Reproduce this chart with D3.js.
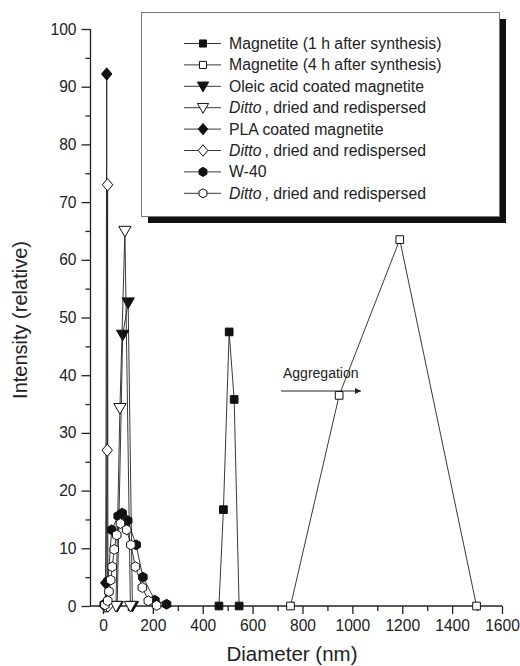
<!DOCTYPE html>
<html><head><meta charset="utf-8">
<script src="https://cdn.jsdelivr.net/npm/d3@7"></script>
<style>
html,body{margin:0;padding:0;background:#fff;}
svg text{font-family:"Liberation Sans",Arial,Helvetica,sans-serif;fill:#222;}
</style>
</head><body>
<svg id="c" width="520" height="666"></svg>
<script>
// ---- data (diameter nm, relative intensity) ----
const magnetite1h = [[465,0],[483,16.7],[506,47.5],[526,35.8],[546,0]];
const magnetite4h = [[752,0],[947,36.5],[1190,63.5],[1498,0]];
const oleic = [[57,0],[79,47],[101,52.6],[118,0]];
const oleicDitto = [[52,0],[68,34.3],[88,65],[110,0]];
const pla = [[8,0],[11,4.0],[15,92.2],[17,0]];
const plaDitto = [[10,0],[17,27],[18.5,73],[20,0]];
const w40 = [[5,0.3],[20,4.3],[35,13.2],[61,15.6],[77,16.1],[99,14.8],[133,10.6],[160,5.0],[208,1.0],[255,0.3]];
const w40Ditto = [[8,0.2],[19,0.9],[24,2.5],[31,4.5],[37,6.8],[45,9.8],[55,12.3],[70,14.3],[95,13.2],[112,10.6],[130,6.8],[158,3.2],[182,0.9],[215,0.1]];

const seriesNames = ["Magnetite (1 h after synthesis)","Magnetite (4 h after synthesis)","Oleic acid coated magnetite","Ditto","PLA coated magnetite","Ditto","W-40","Ditto"];
const seriesSymbols = ["square","square","triDown","triDown","diamond","diamond","hexagon","hexagon"];
const seriesFilled = [true,false,true,false,true,false,true,false];
const seriesData = [magnetite1h,magnetite4h,oleic,oleicDitto,pla,plaDitto,w40,w40Ditto];

const xTicks = [0,200,400,600,800,1000,1200,1400,1600];
const xMinorTicks = [100,300,500,700,900,1100,1300,1500];
const yTicks = [0,10,20,30,40,50,60,70,80,90,100];
const yMinorTicks = [5,15,25,35,45,55,65,75,85,95];

const xTitle = "Diameter (nm)";
const yTitle = "Intensity (relative)";
const annotationText = "Aggregation";

// ---- chart ----
const svg = d3.select("#c");
const x = d3.scaleLinear().domain([-50,1600]).range([90.5,502]);
const y = d3.scaleLinear().domain([0,100]).range([606,29]);

function shape(type, s){
  if(type==="square"){const h=s*0.48;return `M${-h},${-h}H${h}V${h}H${-h}Z`;}
  if(type==="triDown"){const w=s*0.56,t=s*0.42,b=s*0.55;return `M${-w},${-t}L${w},${-t}L0,${b}Z`;}
  if(type==="diamond"){const a=s*0.62,b=s*0.52;return `M0,${-a}L${b},0L0,${a}L${-b},0Z`;}
  if(type==="hexagon"){const r=s*0.52;let p="";for(let k=0;k<6;k++){const ang=(-90+60*k)*Math.PI/180;p+=(k?"L":"M")+(r*Math.cos(ang)).toFixed(2)+","+(r*Math.sin(ang)).toFixed(2);}return p+"Z";}
}
const symSize = {square:8,triDown:11,diamond:10,hexagon:9.5};

// axes
const gx = svg.append("g").attr("transform","translate(0,606)");
gx.call(d3.axisBottom(x).tickValues(xTicks).tickSize(8).tickPadding(6).tickFormat(d3.format("d")));
gx.append("g").call(d3.axisBottom(x).tickValues(xMinorTicks).tickSize(5).tickFormat(""));
gx.selectAll(".domain").attr("stroke","#222").attr("stroke-width",1.3);
gx.selectAll(".tick line").attr("stroke","#222").attr("stroke-width",1.3);
gx.selectAll(".tick text").attr("font-size",15.6).attr("fill","#222").attr("font-family","Liberation Sans, Arial, sans-serif");
gx.select(".domain").attr("d",`M${x(-50)},0H${x(1600)}`);
gx.selectAll("g .domain").filter(function(){return this.parentNode!==gx.node();}).remove();

const gy = svg.append("g").attr("transform",`translate(${x(-50)},0)`);
gy.call(d3.axisLeft(y).tickValues(yTicks).tickSize(9).tickPadding(5).tickFormat(d3.format("d")));
gy.append("g").call(d3.axisLeft(y).tickValues(yMinorTicks).tickSize(5).tickFormat(""));
gy.selectAll(".domain").attr("stroke","#222").attr("stroke-width",1.3);
gy.selectAll(".tick line").attr("stroke","#222").attr("stroke-width",1.3);
gy.selectAll(".tick text").attr("font-size",15.6).attr("fill","#222").attr("font-family","Liberation Sans, Arial, sans-serif");
gy.selectAll("g .domain").filter(function(){return this.parentNode!==gy.node();}).remove();
gy.select(".domain").attr("d",`M0,${y(0)}V${y(100)}`);

// axis titles
svg.append("text").attr("x",292).attr("y",661).attr("text-anchor","middle").attr("font-size",20.5).text(xTitle);
svg.append("text").attr("transform","translate(27,320) rotate(-90)").attr("text-anchor","middle").attr("font-size",20).text(yTitle);

// series
const line = d3.line().x(d=>x(d[0])).y(d=>y(d[1]));
seriesData.forEach((data,i)=>{
  const g = svg.append("g");
  g.append("path").attr("d",line(data)).attr("fill","none").attr("stroke","#222").attr("stroke-width",0.9);
  g.selectAll("path.m").data(data).join("path").attr("class","m")
    .attr("transform",d=>`translate(${x(d[0])},${y(d[1])})`)
    .attr("d",shape(seriesSymbols[i],symSize[seriesSymbols[i]]))
    .attr("fill",seriesFilled[i]?"#111":"#fff").attr("stroke","#111").attr("stroke-width",1);
});

// annotation
svg.append("text").attr("x",283).attr("y",378).attr("font-size",14).text(annotationText);
svg.append("defs").append("marker").attr("id","ah").attr("viewBox","0 0 10 10").attr("refX",10).attr("refY",5)
  .attr("markerWidth",8).attr("markerHeight",6).attr("markerUnits","userSpaceOnUse").attr("orient","auto")
  .append("path").attr("d","M0,0L10,5L0,10Z").attr("fill","#222");
svg.append("line").attr("x1",281).attr("x2",361).attr("y1",391).attr("y2",391).attr("stroke","#222").attr("stroke-width",1.1).attr("marker-end","url(#ah)");

// legend
const lg = svg.append("g");
lg.append("rect").attr("x",148).attr("y",19).attr("width",358).attr("height",204).attr("fill","#111");
lg.append("rect").attr("x",141.5).attr("y",12.5).attr("width",358).attr("height",204).attr("fill","#fff").attr("stroke","#777").attr("stroke-width",1);
seriesNames.forEach((name,i)=>{
  const yy = 43.5 + i*21.4;
  lg.append("line").attr("x1",184).attr("x2",221).attr("y1",yy).attr("y2",yy).attr("stroke","#222").attr("stroke-width",0.9);
  lg.append("path").attr("transform",`translate(203,${yy})`).attr("d",shape(seriesSymbols[i],symSize[seriesSymbols[i]]*0.92))
    .attr("fill",seriesFilled[i]?"#111":"#fff").attr("stroke","#111").attr("stroke-width",1);
  const t = lg.append("text").attr("x",229).attr("y",yy+5.5).attr("font-size",15.8);
  if(name==="Ditto"){
    t.append("tspan").attr("font-style","italic").text("Ditto");
    t.append("tspan").attr("dx",3).text(", dried and redispersed");
  } else t.text(name);
});
</script>
</body></html>
